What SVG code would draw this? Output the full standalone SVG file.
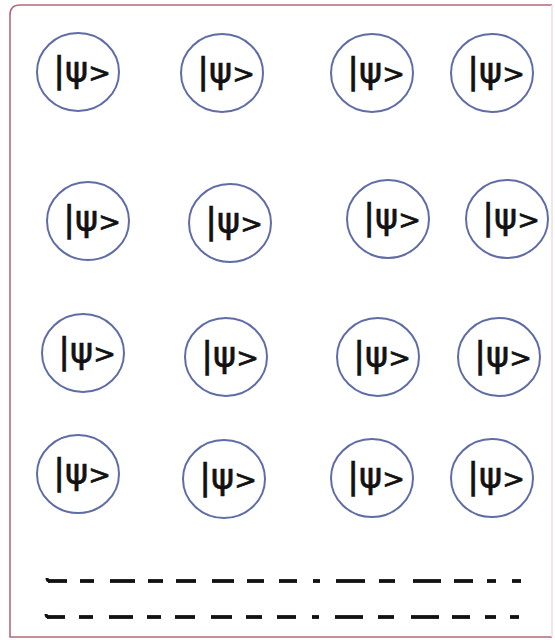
<svg xmlns="http://www.w3.org/2000/svg" width="555" height="640" viewBox="0 0 555 640">
<style>
.n ellipse{fill:#ffffff;stroke:#5f6ca6;stroke-width:2}
.n text{font-family:"DejaVu Sans",Verdana,sans-serif;font-size:35px;fill:#111;stroke:#111;stroke-width:0.7;text-anchor:middle}
.n tspan{font-size:27px}
.d line{stroke:#111;stroke-width:3.8}
</style>
<rect width="555" height="640" fill="#ffffff"/>
<path d="M552,5 H20 Q10,5 10,15 V637 H552" fill="none" stroke="#b46a7a" stroke-width="1.6"/>
<path d="M552,5 V637" fill="none" stroke="#f2dde1" stroke-width="1.6"/>
<g id="n11" class="n"><ellipse cx="78" cy="72" rx="41" ry="39"/><text x="82" y="82">|ψ<tspan>&gt;</tspan></text></g>
<g id="n12" class="n"><ellipse cx="222" cy="73" rx="41" ry="39"/><text x="226" y="83">|ψ<tspan>&gt;</tspan></text></g>
<g id="n13" class="n"><ellipse cx="372" cy="73" rx="41" ry="39"/><text x="376" y="83">|ψ<tspan>&gt;</tspan></text></g>
<g id="n14" class="n"><ellipse cx="492" cy="73" rx="41" ry="39"/><text x="496" y="83">|ψ<tspan>&gt;</tspan></text></g>
<g id="n21" class="n"><ellipse cx="88" cy="221" rx="41" ry="39"/><text x="92" y="231">|ψ<tspan>&gt;</tspan></text></g>
<g id="n22" class="n"><ellipse cx="230" cy="223" rx="41" ry="39"/><text x="234" y="233">|ψ<tspan>&gt;</tspan></text></g>
<g id="n23" class="n"><ellipse cx="388" cy="219" rx="41" ry="39"/><text x="392" y="229">|ψ<tspan>&gt;</tspan></text></g>
<g id="n24" class="n"><ellipse cx="507" cy="219" rx="41" ry="39"/><text x="511" y="229">|ψ<tspan>&gt;</tspan></text></g>
<g id="n31" class="n"><ellipse cx="83" cy="353" rx="41" ry="39"/><text x="87" y="363">|ψ<tspan>&gt;</tspan></text></g>
<g id="n32" class="n"><ellipse cx="226" cy="357" rx="41" ry="39"/><text x="230" y="367">|ψ<tspan>&gt;</tspan></text></g>
<g id="n33" class="n"><ellipse cx="378" cy="357" rx="41" ry="39"/><text x="382" y="367">|ψ<tspan>&gt;</tspan></text></g>
<g id="n34" class="n"><ellipse cx="499" cy="357" rx="41" ry="39"/><text x="503" y="367">|ψ<tspan>&gt;</tspan></text></g>
<g id="n41" class="n"><ellipse cx="78" cy="474" rx="41" ry="39"/><text x="82" y="484">|ψ<tspan>&gt;</tspan></text></g>
<g id="n42" class="n"><ellipse cx="224" cy="479" rx="41" ry="39"/><text x="228" y="489">|ψ<tspan>&gt;</tspan></text></g>
<g id="n43" class="n"><ellipse cx="372" cy="478" rx="41" ry="39"/><text x="376" y="488">|ψ<tspan>&gt;</tspan></text></g>
<g id="n44" class="n"><ellipse cx="492" cy="478" rx="41" ry="39"/><text x="496" y="488">|ψ<tspan>&gt;</tspan></text></g>
<g id="connectors" class="d">
<path d="M47,578 Q47,581 50,581" fill="none" stroke="#111" stroke-width="3"/>
<line x1="48" y1="581" x2="67" y2="581"/><line x1="80" y1="581" x2="94" y2="581"/><line x1="110" y1="581" x2="135" y2="581"/><line x1="148" y1="581" x2="163" y2="581"/><line x1="176" y1="581" x2="196" y2="581"/><line x1="212" y1="581" x2="234" y2="581"/><line x1="247" y1="581" x2="264" y2="581"/><line x1="279" y1="581" x2="297" y2="581"/><line x1="313" y1="581" x2="320" y2="581"/><line x1="336" y1="581" x2="365" y2="581"/><line x1="379" y1="581" x2="395" y2="581"/><line x1="413" y1="581" x2="441" y2="581"/><line x1="454" y1="581" x2="473" y2="581"/><line x1="487" y1="581" x2="496" y2="581"/><line x1="512" y1="581" x2="521" y2="581"/>
<path d="M46,614 Q46,617 49,617" fill="none" stroke="#111" stroke-width="3"/>
<line x1="47" y1="617" x2="65" y2="617"/><line x1="79" y1="617" x2="93" y2="617"/><line x1="109" y1="617" x2="133" y2="617"/><line x1="147" y1="617" x2="161" y2="617"/><line x1="175" y1="617" x2="195" y2="617"/><line x1="211" y1="617" x2="232" y2="617"/><line x1="246" y1="617" x2="262" y2="617"/><line x1="277" y1="617" x2="296" y2="617"/><line x1="312" y1="617" x2="319" y2="617"/><line x1="335" y1="617" x2="363" y2="617"/><line x1="378" y1="617" x2="394" y2="617"/><line x1="411" y1="617" x2="439" y2="617"/><line x1="452" y1="617" x2="470" y2="617"/><line x1="485" y1="617" x2="496" y2="617"/><line x1="510" y1="617" x2="519" y2="617"/>
</g>
</svg>
